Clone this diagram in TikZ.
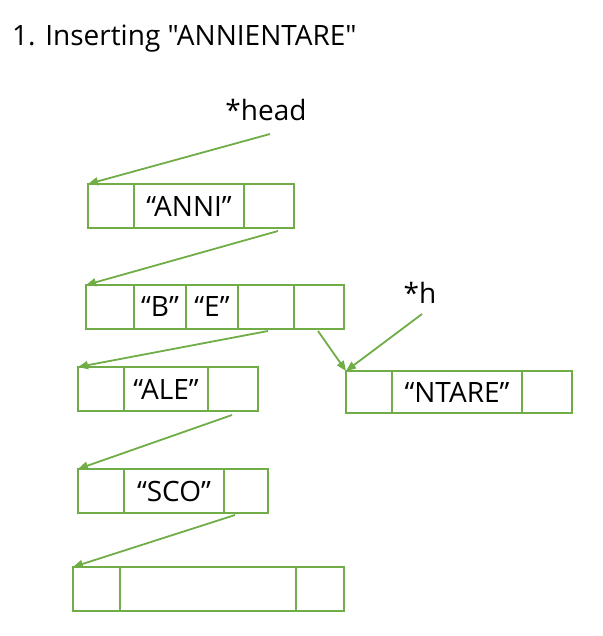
\documentclass[tikz,border=0pt]{standalone}
\usepackage{fontspec}
\setmainfont{Open Sans}[Ligatures=TeXOff]
\usetikzlibrary{positioning,arrows.meta}
\definecolor{listgreen}{HTML}{70AD47}
\begin{document}
\begin{tikzpicture}[x=1pt, y=-1pt,
    cell/.style={draw=listgreen, line width=2.2pt, inner sep=0pt, outer sep=0pt, minimum height=44pt, font=\fontsize{28}{32}\selectfont},
    link/.style={draw=listgreen, line width=1.8pt, -{Triangle[length=10pt, width=8pt]}},
    label/.style={font=\fontsize{28}{32}\selectfont, inner sep=0pt}]
    \useasboundingbox (0,0) rectangle (602,636);
    \node[label, anchor=base west] (title) at (12,46) {1. Inserting "ANNIENTARE"};
    % first node
    \node[cell, minimum width=46pt, anchor=north west] (a1) at (88,184) {};
    \node[cell, minimum width=110pt] (a2) [right=0pt of a1] {“ANNI”};
    \node[cell, minimum width=50pt] (a3) [right=0pt of a2] {};
    % second node
    \node[cell, minimum width=48pt, anchor=north west] (b1) at (86,285) {};
    \node[cell, minimum width=52pt] (b2) [right=0pt of b1] {“B”};
    \node[cell, minimum width=52pt] (b3) [right=0pt of b2] {“E”};
    \node[cell, minimum width=56pt] (b4) [right=0pt of b3] {};
    \node[cell, minimum width=50pt] (b5) [right=0pt of b4] {};
    % third node
    \node[cell, minimum width=46pt, anchor=north west] (c1) at (78,367) {};
    \node[cell, minimum width=84pt] (c2) [right=0pt of c1] {“ALE”};
    \node[cell, minimum width=50pt] (c3) [right=0pt of c2] {};
    % fourth node
    \node[cell, minimum width=46pt, anchor=north west] (d1) at (78,469) {};
    \node[cell, minimum width=100pt] (d2) [right=0pt of d1] {“SCO”};
    \node[cell, minimum width=44pt] (d3) [right=0pt of d2] {};
    % fifth node
    \node[cell, minimum width=47pt, anchor=north west] (e1) at (73,567) {};
    \node[cell, minimum width=176pt] (e2) [right=0pt of e1] {};
    \node[cell, minimum width=48pt] (e3) [right=0pt of e2] {};
    % new node
    \node[cell, minimum width=46pt, minimum height=42pt, anchor=north west] (n1) at (346,371) {};
    \node[cell, minimum width=130pt, minimum height=42pt] (n2) [right=0pt of n1] {“NTARE”};
    \node[cell, minimum width=50pt, minimum height=42pt] (n3) [right=0pt of n2] {};
    % pointers
    \node[label] (head) at (266,110) {*head};
    \node[label] (h) at (420,293) {*h};
    \coordinate (headtail) at (270,134);
    \coordinate (htail) at (422,314);
    \draw[link] (headtail) -- (a1.north west);
    \draw[link] ([xshift=9pt, yshift=-3pt]a3.south) -- (b1.north west);
    \draw[link] ([xshift=2pt, yshift=-2pt]b4.south) -- (c1.north west);
    \draw[link] ([xshift=-1pt, yshift=-2pt]b5.south) -- (n1.north west);
    \draw[link] (htail) -- (n1.north west);
    \draw[link] ([xshift=-1pt, yshift=-4pt]c3.south) -- (d1.north west);
    \draw[link] ([xshift=-11pt, yshift=-2pt]d3.south) -- (e1.north west);
\end{tikzpicture}
\end{document}
